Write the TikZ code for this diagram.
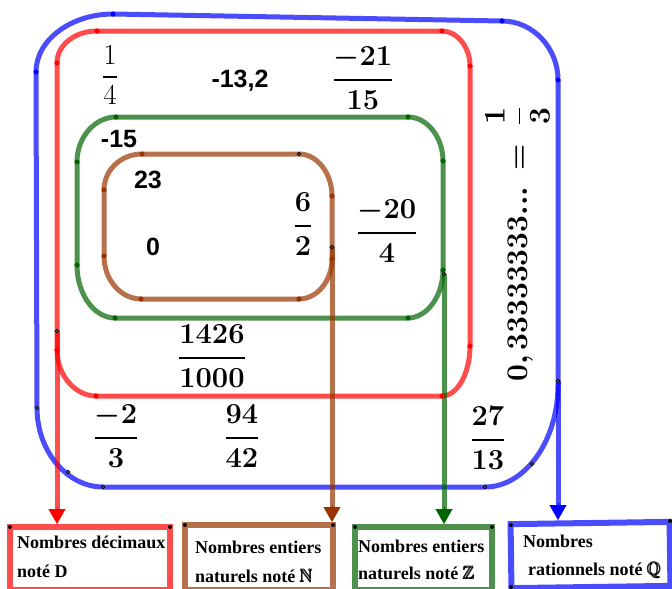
\RequirePackage{fix-cm}
\documentclass[tikz,border=0pt]{standalone}
\usepackage{amsmath,amssymb}
\usepackage{bm}
\usepackage{fontspec}
\setmainfont{Liberation Serif}
\newfontfamily\lsans{Liberation Sans}
\usetikzlibrary{arrows.meta,calc}
\definecolor{cBlue}{RGB}{0,0,255}
\definecolor{cRed}{RGB}{255,0,0}
\definecolor{cGreen}{RGB}{0,100,0}
\definecolor{cBrown}{RGB}{153,51,0}
\newcommand\ptdot[2]{\fill[#1] (#2) circle (2.6pt);}
\newcommand\ptring[1]{\filldraw[fill=white,draw=black,line width=1pt] (#1) circle (1.6pt);}
\tikzset{
  setline/.style={line width=5pt, draw opacity=0.7, line join=round},
  boxst/.style={draw, line width=6pt, draw opacity=0.7, inner sep=0pt, outer sep=0pt, anchor=north west},
  num/.style={font=\fontsize{29}{34}\selectfont, inner sep=0pt},
  sans/.style={font=\lsans\bfseries\fontsize{25}{30}\selectfont, inner sep=0pt, anchor=base},
  lbl/.style={font=\bfseries\fontsize{18}{22}\selectfont, inner sep=0pt, anchor=base west},
  tip/.style={line width=0.4pt, shorten >=3pt, -{Triangle[width=17pt,length=15pt]}},
  shaft/.style={setline, shorten >=16pt}
}
\begin{document}
\begin{tikzpicture}[x=1pt,y=-1pt]
\useasboundingbox (0,0) rectangle (672,589);
% sets
\draw[setline,cBlue] (36,72) .. controls (36,40) and (71,14) .. (113,14) -- (502,21) .. controls (533,21) and (558,48) .. (558,80) -- (558,385) .. controls (558,441) and (525,487) .. (485,487) -- (103,487) .. controls (67,487) and (37,451) .. (37,408) -- cycle;
\draw[setline,cRed] (57,63) .. controls (57,45) and (75,31) .. (97,31) -- (442,31) .. controls (457,31) and (470,47) .. (470,66) -- (470,346) .. controls (470,374) and (457,396) .. (442,396) -- (96,396) .. controls (75,396) and (57,375) .. (57,350) -- cycle;
\draw[setline,cGreen] (77,162) .. controls (77,137) and (95,117) .. (116,117) -- (408,117) .. controls (427,117) and (443,137) .. (443,161) -- (443,270) .. controls (443,296) and (427,318) .. (408,318) -- (115,318) .. controls (94,318) and (77,294) .. (77,265) -- cycle;
\draw[setline,cBrown] (104,190) .. controls (104,170) and (121,154) .. (142,154) -- (299,154) .. controls (317,154) and (332,173) .. (332,196) -- (332,259) .. controls (332,281) and (317,299) .. (299,299) -- (141,299) .. controls (121,299) and (104,280) .. (104,256) -- cycle;
% boxes
\node[boxst,cRed,minimum width=160pt,minimum height=63pt] (rbox) at (10,527) {};
\node[boxst,cBrown,minimum width=148pt,minimum height=65pt] (bbox) at (185,525) {};
\node[boxst,cGreen,minimum width=137pt,minimum height=63pt] (gbox) at (355,527) {};
\node[draw,line width=6pt,draw opacity=0.7,inner sep=0pt,outer sep=0pt,cBlue,minimum width=159pt,minimum height=64pt,rotate=0.8] (qbox) at (590.5,555) {};
% arrows
\coordinate (rs) at (57,331);
\coordinate (bs) at (332,247);
\coordinate (gs) at (444,274);
\coordinate (qs) at (558,381);
\coordinate (re) at (rs |- rbox.north);
\coordinate (be) at (bs |- bbox.north);
\coordinate (ge) at (gs |- gbox.north);
\coordinate (qe) at (qs |- qbox.north);
\draw[shaft,cRed] (rs) -- (re);
\draw[tip,cRed] ($(re)+(0,-20)$) -- (re);
\draw[shaft,cBrown] (bs) -- (be);
\draw[tip,cBrown] ($(be)+(0,-20)$) -- (be);
\draw[shaft,cGreen] (gs) -- (ge);
\draw[tip,cGreen] ($(ge)+(0,-20)$) -- (ge);
\draw[shaft,cBlue] (qs) -- (qe);
\draw[tip,cBlue] ($(qe)+(0,-20)$) -- (qe);
% points
\ptdot{cBlue}{113,14}\ptdot{cBlue}{502,21}\ptdot{cBlue}{558,80}\ptdot{cBlue}{36,72}
\ptdot{cRed}{97,31}\ptdot{cRed}{57,63}\ptdot{cRed}{442,31}\ptdot{cRed}{470,66}
\ptdot{cRed}{470,346}\ptdot{cRed}{442,396}\ptdot{cRed}{96,396}\ptdot{cRed}{57,350}
\ptdot{cGreen}{116,117}\ptdot{cGreen}{408,117}\ptdot{cGreen}{77,162}\ptdot{cGreen}{77,265}
\ptdot{cGreen}{443,161}\ptdot{cGreen}{443,270}\ptdot{cGreen}{115,318}\ptdot{cGreen}{408,318}
\ptdot{cBrown}{142,154}\ptdot{cBrown}{104,190}\ptdot{cBrown}{104,256}\ptdot{cBrown}{141,299}
\ptdot{cBrown}{299,299}\ptdot{cBrown}{332,196}\ptdot{cBrown}{332,259}
\ptring{37,408}\ptring{68,472}\ptring{103,487}\ptring{485,487}\ptring{532,464}\ptring{558,381}
\ptring{57,331}\ptring{444,274}\ptring{299,154}\ptring{332,247}
\foreach \p in {{10,527},{170,527},{185,525},{333,525},{355,527},{492,527},{511,525},{670,521},{511,587}}
  {\fill[black] (\p) circle (2pt);}
% numbers
\node[num] (f14) at (110,75) {$\dfrac{1}{4}$};
\node[num] (f2115) at (363,78) {$\bm{\dfrac{-21}{15}}$};
\node[num] (f62) at (303,224) {$\bm{\dfrac{6}{2}}$};
\node[num] (f204) at (387,231) {$\bm{\dfrac{-20}{4}}$};
\node[num] (f1426) at (212,356) {$\bm{\dfrac{1426}{1000}}$};
\node[num] (f23) at (116,436) {$\bm{\dfrac{-2}{3}}$};
\node[num] (f9442) at (242,436) {$\bm{\dfrac{94}{42}}$};
\node[num] (f2713) at (488,438) {$\bm{\dfrac{27}{13}}$};
\node[sans] (s132) at (240,87) {-13,2};
\node[sans] (s15) at (119,147) {-15};
\node[sans] (s23) at (148,188) {23};
\node[sans] (s0) at (153,255) {0};
\node[rotate=90,anchor=base west,inner sep=0pt,font=\fontsize{30}{36}\selectfont] (vq) at (527,382) {$\bm{0,33333333...}\hspace{8pt}\bm{=}\hspace{10pt}\bm{\dfrac{1}{3}}$};
% labels
\node[lbl] (tD1) at (17,548) {Nombres décimaux};
\node[lbl] (tD2) at (17,577) {noté D};
\node[lbl] (tN1) at (195,553) {Nombres entiers};
\node[lbl] (tN2) at (195,582) {naturels noté $\pmb{\mathbb{N}}$};
\node[lbl] (tZ1) at (358,552) {Nombres entiers};
\node[lbl] (tZ2) at (358,579) {naturels noté $\pmb{\mathbb{Z}}$};
\node[lbl] (tQ1) at (523,547) {Nombres};
\node[lbl] (tQ2) at (528,575) {rationnels noté $\pmb{\mathbb{Q}}$};
\end{tikzpicture}
\end{document}
